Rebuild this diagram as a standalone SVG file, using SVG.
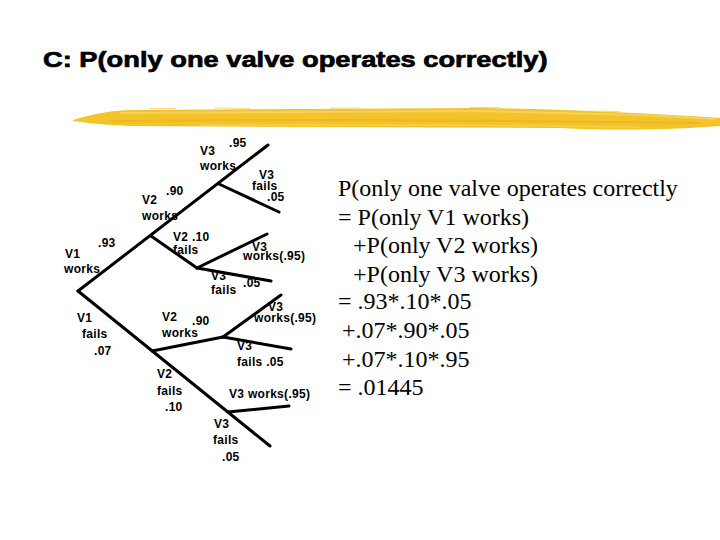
<svg xmlns="http://www.w3.org/2000/svg" width="720" height="540" viewBox="0 0 720 540">
<style>
.title{font-family:"Liberation Sans",Arial,sans-serif;font-weight:bold;font-size:22px;fill:#000;stroke:#000;stroke-width:0.7}
.lbl{font-family:"Liberation Sans",Arial,sans-serif;font-weight:bold;font-size:12px;letter-spacing:0.3px;fill:#000}
.eq{font-family:"Liberation Serif","Times New Roman",serif;font-size:24px;fill:#000}
.br{stroke:#000;stroke-width:3;fill:none;stroke-linecap:round}
</style>
<rect width="720" height="540" fill="#fff"/>
<text class="title" transform="translate(43,67) scale(1.24,1)">C: P(only one valve operates correctly)</text>
<g id="highlight">
<path d="M73,120 C90,115 105,111 130,110 L300,109 L480,108 C560,109 620,112 690,116 L720,118 L720,126 L690,128 C640,130 600,130 560,128 L300,127 L130,126 C105,125 88,123 73,121 Z" fill="#F3C32A"/>
<path d="M120,113 L320,112 L480,111 L640,115 L715,119" stroke="#F8D666" stroke-width="2" fill="none" opacity="0.8"/>
<path d="M110,121 L300,120 L500,121 L700,123" stroke="#EBB419" stroke-width="2" fill="none" opacity="0.7"/>
<path d="M200,125 L450,125 L640,127" stroke="#F7D45A" stroke-width="1.5" fill="none" opacity="0.7"/>
<path d="M150,108.5 L175,108.5 M215,108 L250,108.5 M330,108 L360,108 M470,107.5 L500,107.5 M590,111 L620,111.5" stroke="#F6D260" stroke-width="1" fill="none" opacity="0.8"/>
</g>
<g id="connectors">
<path class="br" d="M78,291 L268,145"/>
<path class="br" d="M219,184 L279,212"/>
<path class="br" d="M151,236 L197,268"/>
<path class="br" d="M197,268 L267,234"/>
<path class="br" d="M197,268 L271,281"/>
<path class="br" d="M78,291 L270,446"/>
<path class="br" d="M152,351 L223,337"/>
<path class="br" d="M223,337 L281,295"/>
<path class="br" d="M223,337 L291,349"/>
<path class="br" d="M228,412 L289,406"/>
</g>
<g id="v1-works">
<text class="lbl" x="65" y="258">V1</text>
<text class="lbl" x="98" y="247">.93</text>
<text class="lbl" x="64" y="273">works</text>
</g>
<g id="v2-works-a">
<text class="lbl" x="142" y="204">V2</text>
<text class="lbl" x="166" y="195">.90</text>
<text class="lbl" x="142" y="220">works</text>
</g>
<g id="v3-works-a">
<text class="lbl" x="200" y="155">V3</text>
<text class="lbl" x="229" y="147">.95</text>
<text class="lbl" x="200" y="170">works</text>
</g>
<g id="v3-fails-a">
<text class="lbl" x="259" y="179">V3</text>
<text class="lbl" x="252" y="190">fails</text>
<text class="lbl" x="267" y="201">.05</text>
</g>
<g id="v2-fails-a">
<text class="lbl" x="173" y="241">V2 .10</text>
<text class="lbl" x="173" y="254">fails</text>
</g>
<g id="v3-works-b">
<text class="lbl" x="252" y="251">V3</text>
<text class="lbl" x="243" y="260">works(.95)</text>
</g>
<g id="v3-fails-b">
<text class="lbl" x="211" y="280">V3</text>
<text class="lbl" x="243" y="287">.05</text>
<text class="lbl" x="211" y="294">fails</text>
</g>
<g id="v1-fails">
<text class="lbl" x="77" y="322">V1</text>
<text class="lbl" x="82" y="338">fails</text>
<text class="lbl" x="94" y="355">.07</text>
</g>
<g id="v2-works-b">
<text class="lbl" x="162" y="321">V2</text>
<text class="lbl" x="192" y="325">.90</text>
<text class="lbl" x="162" y="337">works</text>
</g>
<g id="v3-works-c">
<text class="lbl" x="268" y="311">V3</text>
<text class="lbl" x="254" y="322">works(.95)</text>
</g>
<g id="v3-fails-c">
<text class="lbl" x="237" y="350">V3</text>
<text class="lbl" x="237" y="366">fails .05</text>
</g>
<g id="v2-fails-b">
<text class="lbl" x="157" y="378">V2</text>
<text class="lbl" x="157" y="395">fails</text>
<text class="lbl" x="165" y="411">.10</text>
</g>
<g id="v3-works-d">
<text class="lbl" x="229" y="398">V3 works(.95)</text>
</g>
<g id="v3-fails-d">
<text class="lbl" x="214" y="428">V3</text>
<text class="lbl" x="213" y="444">fails</text>
<text class="lbl" x="222" y="461">.05</text>
</g>
<g id="equation">
<text class="eq" x="338" y="196">P(only one valve operates correctly</text>
<text class="eq" x="338" y="224.5">= P(only V1 works)</text>
<text class="eq" x="353" y="253">+P(only V2 works)</text>
<text class="eq" x="353" y="281.5">+P(only V3 works)</text>
<text class="eq" x="338" y="309">= .93*.10*.05</text>
<text class="eq" x="342" y="338">+.07*.90*.05</text>
<text class="eq" x="342" y="366.5">+.07*.10*.95</text>
<text class="eq" x="338" y="395">= .01445</text>
</g>
</svg>
